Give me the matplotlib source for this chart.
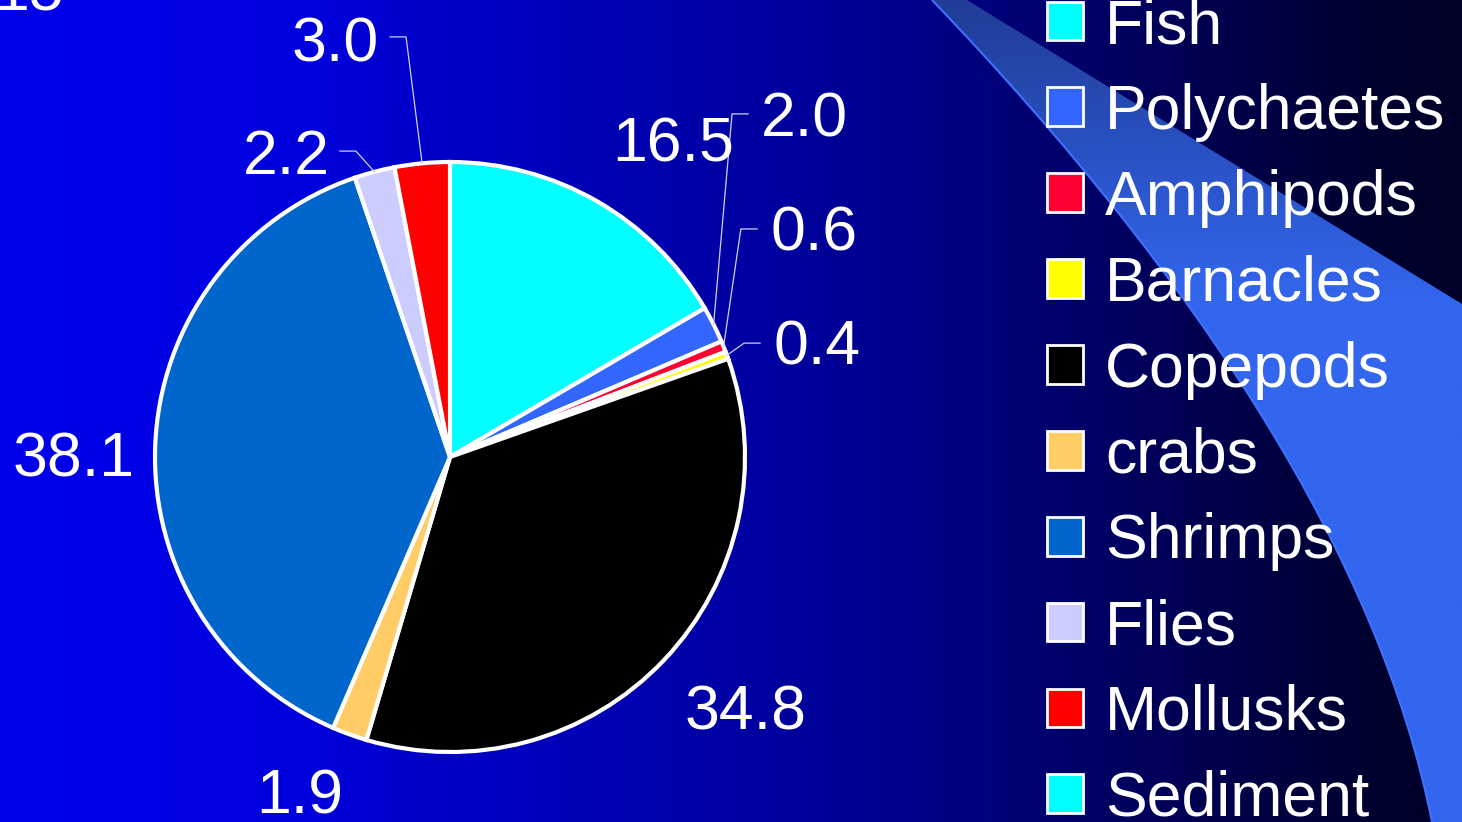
import numpy as np
import matplotlib.pyplot as plt
from matplotlib.patches import Patch, PathPatch
from matplotlib.path import Path

plt.rcParams['font.family'] = ['Liberation Sans', 'DejaVu Sans']

categories = ["Fish", "Polychaetes", "Amphipods", "Barnacles", "Copepods",
              "crabs", "Shrimps", "Flies", "Mollusks", "Sediment"]
percent = [16.5, 2.0, 0.6, 0.4, 34.8, 1.9, 38.1, 2.2, 3.0, 0.0]
colors = ["#00ffff", "#3366ff", "#ff0033", "#ffff00", "#000000",
          "#ffcc66", "#0066cc", "#ccccff", "#ff0000", "#00ffff"]
corner_text = "15"

# label centres in pie units (radius = 1), and leader elbows for small slices
label_xy = [(0.756, 1.075), (1.203, 1.159), (1.234, 0.773), (1.244, 0.386),
            (1.003, -0.851), (-0.508, -1.136), (-1.275, 0.007),
            (-0.553, 1.031), (-0.390, 1.414), None]
leader = [None, ((0.956, 1.163), (1.010, 1.163)),
          ((0.986, 0.773), (1.041, 0.773)),
          ((0.997, 0.386), (1.051, 0.386)), None, None, None,
          ((-0.319, 1.037), (-0.373, 1.037)),
          ((-0.149, 1.424), (-0.203, 1.424)), None]

W, H = 1462, 822
fig = plt.figure(figsize=(W / 100, H / 100), dpi=100)

# background: horizontal blue gradient
bg = fig.add_axes([0, 0, 1, 1])
bg.set_xlim(0, W)
bg.set_ylim(H, 0)
bg.axis('off')
gx = [0, 300, 400, 850, 900, 1350, 1462]
gb = [235, 222, 205, 150, 140, 51, 40]
grad = np.zeros((1, W, 3))
grad[0, :, 2] = np.interp(np.arange(W), gx, gb) / 255
bg.imshow(grad, extent=(0, W, H, 0), aspect='auto', zorder=0)

# decorative swoosh on the right
verts = [(932, 0), (967, 0), (1462, 304), (1462, 822), (1432, 822),
         (1380, 560), (1200, 280), (932, 0), (932, 0)]
codes = [Path.MOVETO, Path.LINETO, Path.LINETO, Path.LINETO, Path.LINETO,
         Path.CURVE4, Path.CURVE4, Path.CURVE4, Path.CLOSEPOLY]
band = PathPatch(Path(verts, codes), facecolor='none', edgecolor='none')
bg.add_patch(band)
c0 = np.array([0x20, 0x3c, 0x96]) / 255
c1 = np.array([0x33, 0x66, 0xee]) / 255
t = np.clip(np.arange(H) / 300, 0, 1)[:, None]
band_img = (c0 * (1 - t) + c1 * t)[:, None, :]
im = bg.imshow(band_img, extent=(0, W, H, 0), aspect='auto', zorder=1)
im.set_clip_path(band)
edge = Path([(1432, 822), (1380, 560), (1200, 280), (932, 0)],
            [Path.MOVETO, Path.CURVE4, Path.CURVE4, Path.CURVE4])
bg.add_patch(PathPatch(edge, facecolor='none', edgecolor='#4070ff',
                       linewidth=1.5, zorder=2))
bg.set_xlim(0, W)
bg.set_ylim(H, 0)

bg.text(-6, 10, corner_text, color='white', fontsize=45, va='baseline')

# pie
pax = fig.add_axes([155 / W, 70 / H, 590 / W, 590 / H])
shown = [i for i, v in enumerate(percent) if v > 0]
wedges, _ = pax.pie([percent[i] for i in shown],
                    colors=[colors[i] for i in shown],
                    startangle=90, counterclock=False,
                    wedgeprops=dict(edgecolor='white', linewidth=3))
pax.set_xlim(-1, 1)
pax.set_ylim(-1, 1)

for w, i in zip(wedges, shown):
    x, y = label_xy[i]
    pax.text(x, y - 0.016, f"{percent[i]:.1f}", color='white', fontsize=45,
             ha='center', va='center', clip_on=False)
    if leader[i] is not None:
        mid = np.deg2rad((w.theta1 + w.theta2) / 2)
        (ex, ey), (tx, ty) = leader[i]
        pax.plot([np.cos(mid), ex, tx], [np.sin(mid), ey, ty],
                 color='#d0d0f0', linewidth=0.9, clip_on=False)

handles = [Patch(facecolor=c, edgecolor='white', linewidth=2) for c in colors]
fig.legend(handles, categories, loc='upper left',
           bbox_to_anchor=(1047 / W, 1 + 3 / H), frameon=False,
           fontsize=45, labelcolor='white', handlelength=0.576,
           handleheight=0.576, handletextpad=0.35, labelspacing=0.43,
           borderpad=0, borderaxespad=0)

fig.savefig('out.png', dpi=100)
